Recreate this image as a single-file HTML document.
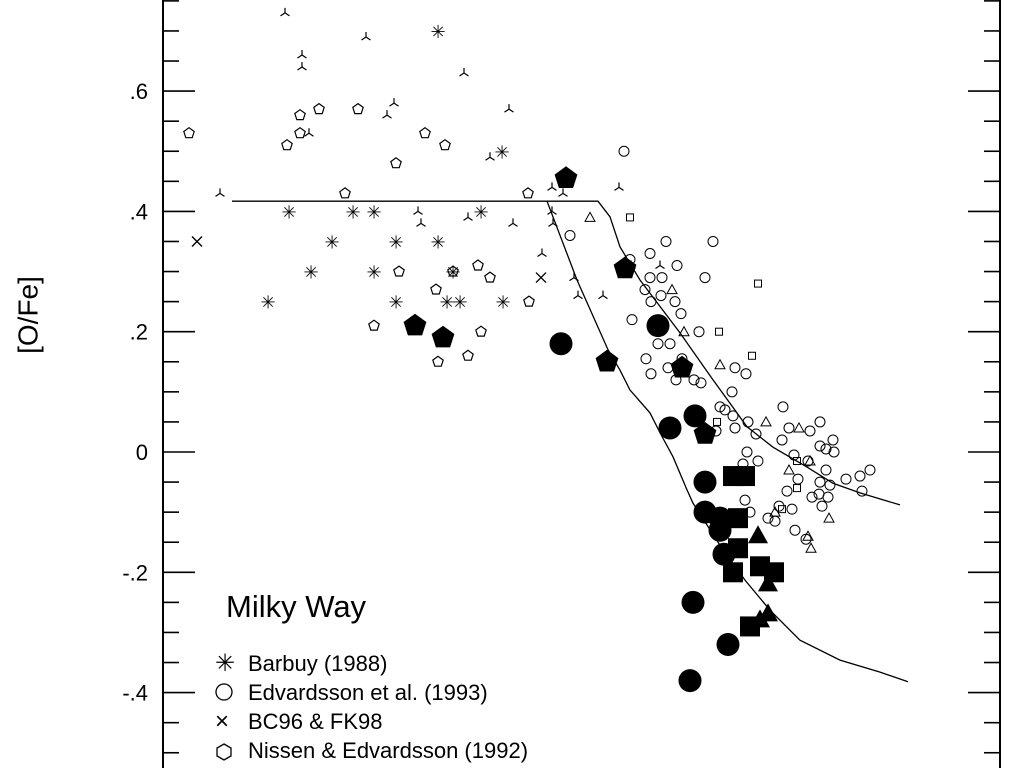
<!DOCTYPE html>
<html><head><meta charset="utf-8"><style>
body{margin:0;background:#fff;}
svg{display:block;font-family:"Liberation Sans",sans-serif;}
</style></head><body>
<svg id="chart" width="1024" height="768" viewBox="0 0 1024 768">
<g id="axes"></g>
<g id="marks"></g>
<text x="30" y="315" transform="rotate(-90 30 315)" text-anchor="middle" dominant-baseline="middle" font-size="28">[O/Fe]</text>
<text x="226" y="617" font-size="31">Milky Way</text>
<g font-size="22">
<g><text x="215" y="671" font-size="24">✳</text><text x="248" y="671">Barbuy (1988)</text></g>
<g><circle cx="224" cy="692" r="8" fill="none" stroke="#000" stroke-width="1.3"/><text x="248" y="700">Edvardsson et al. (1993)</text></g>
<g><text x="215" y="729" font-size="24">×</text><text x="248" y="729">BC96 &amp; FK98</text></g>
<g><polygon points="224,744 231,748 231,756 224,760 217,756 217,748" fill="none" stroke="#000" stroke-width="1.3"/><text x="248" y="758">Nissen &amp; Edvardsson (1992)</text></g>
</g>
</svg>
<script>
// y ticks
const yTickVals=[0.6,0.4,0.2,0,-0.2,-0.4];
const yTickLabels=[".6",".4",".2","0","-.2","-.4"];
// Barbuy asterisks [Fe/H],[O/Fe]
const barbuyX=[-2.025,-1.705,-2.77,-2.45,-2.345,-1.81,-2.555,-2.235,-2.025,-2.66,-2.345,-1.95,-2.875,-2.235,-1.98,-1.915,-1.70];
const barbuyY=[0.70,0.50,0.40,0.40,0.40,0.40,0.35,0.35,0.35,0.30,0.30,0.30,0.25,0.25,0.25,0.25,0.25];
const crossX=[-3.23,-1.51];
const crossY=[0.35,0.29];
const tripodX=[-2.79,-2.385,-2.705,-2.705,-1.895,-2.245,-2.28,-1.67,-2.67,-1.765,-3.115,-2.125,-2.11,-1.875,-1.65,-1.455,-1.455,-1.40,-1.12,-1.45,-1.505,-1.345,-1.325,-1.20,-1.06,-0.915];
const tripodY=[0.73,0.69,0.66,0.64,0.63,0.58,0.56,0.57,0.53,0.49,0.43,0.40,0.38,0.39,0.38,0.44,0.40,0.43,0.44,0.38,0.33,0.29,0.26,0.26,0.31,0.31];
const nissenX=[-3.27,-2.715,-2.78,-2.62,-2.425,-2.09,-1.99,-2.235,-2.49,-1.575,-2.345,-2.22,-1.95,-2.035,-1.825,-1.765,-1.57,-1.81,-1.875,-2.025,-2.715];
const nissenY=[0.53,0.53,0.51,0.57,0.57,0.53,0.51,0.48,0.43,0.43,0.21,0.30,0.30,0.27,0.31,0.29,0.25,0.20,0.16,0.15,0.56];
const edvX=[-1.095,-1.365,-0.885,-0.65,-0.965,-0.83,-0.965,-0.905,-0.69,-0.99,-0.96,-0.91,-0.84,-0.81,-1.055,-0.72,-0.925,-0.865,-0.985,-0.805,-0.96,-0.875,-0.835,-0.745,-0.54,-0.485,-0.555,-0.71,-0.615,-0.59,-0.55,-0.54,-0.635,-0.475,-0.435,-0.30,-0.115,-0.165,-0.27,-0.305,-0.115,-0.085,-0.045,-0.48,-0.425,-0.50,-0.51,-0.245,-0.175,-0.085,-0.065,0.015,0.135,-0.075,-0.115,-0.155,-0.225,-0.28,-0.255,-0.105,-0.24,-0.185,-0.34,-0.32,-0.49,-0.465,-0.375,-0.05,-0.12,0.085,0.095,-1.065];
const edvY=[0.50,0.36,0.35,0.35,0.33,0.31,0.29,0.29,0.29,0.27,0.25,0.26,0.25,0.23,0.22,0.20,0.18,0.18,0.155,0.155,0.13,0.14,0.12,0.12,0.14,0.13,0.10,0.115,0.075,0.07,0.06,0.04,0.035,0.05,0.03,0.075,0.05,0.035,0.04,0.02,0.01,0.005,0,0,-0.015,-0.02,-0.04,-0.005,-0.015,-0.03,-0.055,-0.045,-0.03,-0.075,-0.05,-0.075,-0.045,-0.065,-0.095,-0.09,-0.13,-0.145,-0.115,-0.09,-0.08,-0.10,-0.11,0.02,-0.07,-0.04,-0.065,0.32];
const otriX=[-1.265,-0.855,-0.795,-0.615,-0.385,-0.22,-0.165,-0.27,-0.34,-0.07,-0.175,-0.16];
const otriY=[0.39,0.27,0.20,0.145,0.05,0.04,-0.015,-0.03,-0.10,-0.11,-0.14,-0.16];
const osqX=[-1.065,-0.425,-0.62,-0.455,-0.63,-0.23,-0.23,-0.305];
const osqY=[0.39,0.28,0.20,0.16,0.05,-0.015,-0.06,-0.095];
const fpentX=[-1.385,-1.09,-0.805,-0.69,-2.14,-2.00,-1.18];
const fpentY=[0.455,0.305,0.14,0.03,0.21,0.19,0.15];
const fcircX=[-1.41,-0.925,-0.865,-0.74,-0.69,-0.69,-0.615,-0.615,-0.595,-0.75,-0.575,-0.765];
const fcircY=[0.18,0.21,0.04,0.06,-0.05,-0.10,-0.11,-0.13,-0.17,-0.25,-0.32,-0.38];
const fsqX=[-0.55,-0.49,-0.525,-0.525,-0.55,-0.415,-0.345,-0.465];
const fsqY=[-0.04,-0.04,-0.11,-0.16,-0.20,-0.19,-0.20,-0.29];
const ftriX=[-0.425,-0.375,-0.375,-0.415];
const ftriY=[-0.14,-0.22,-0.27,-0.28];
const lowerX=[-3.055,-1.48,-1.33,-1.175,-1.115,-1.065,-0.965,-0.915,-0.85,-0.78,-0.75,-0.615,-0.49,-0.365,-0.215,-0.015,0.185,0.325];
const lowerY=[0.417,0.417,0.286,0.17,0.136,0.103,0.065,0.032,-0.008,-0.063,-0.085,-0.155,-0.213,-0.263,-0.313,-0.346,-0.366,-0.382];
const upperX=[-1.48,-1.225,-1.165,-1.115,-1.015,-0.815,-0.65,-0.48,-0.35,-0.18,-0.05,0.085,0.285];
const upperY=[0.417,0.417,0.391,0.341,0.286,0.198,0.12,0.042,0.008,-0.025,-0.052,-0.068,-0.088];

const X=v=>843+v*200;
const Y=v=>452-v*601.5;
const NS="http://www.w3.org/2000/svg";
const axes=document.getElementById('axes'), marks=document.getElementById('marks');
function mk(tag,attrs,parent){const e=document.createElementNS(NS,tag);for(const k in attrs)e.setAttribute(k,attrs[k]);parent.appendChild(e);return e;}

let e=mk('line',{x1:163,y1:0,x2:163,y2:768,stroke:'#000','stroke-width':2},axes);


e=mk('line',{x1:1000,y1:0,x2:1000,y2:768,stroke:'#000','stroke-width':2},axes);


for(let i=-10;i<=15;i++){
  const v=i*0.05, y=Y(v); if(y<0||y>768) continue;
  const major=(i%4===0);
  const L=major?32:16;
  e=mk('line',{x1:163,y1:y,x2:163+L,y2:y,stroke:'#000','stroke-width':1.6},axes);
  
  
  e=mk('line',{x1:1000-L,y1:y,x2:1000,y2:y,stroke:'#000','stroke-width':1.6},axes);
  
  
}
yTickVals.forEach((v,i)=>{
  const t=mk('text',{x:148,y:Y(v)+8,'text-anchor':'end','font-size':22},axes);
  t.textContent=yTickLabels[i];
  
  
});
function poly(xs,ys,name){
  const p=mk('polyline',{points:xs.map((x,i)=>X(x)+','+Y(ys[i])).join(' '),fill:'none',stroke:'#000','stroke-width':1.3},marks);
  
  
}
poly(lowerX,lowerY,'model-line-lower');
poly(upperX,upperY,'model-line-upper');
function pent(cx,cy,r){let s=[];for(let k=0;k<5;k++){const a=-Math.PI/2+k*2*Math.PI/5;s.push((cx+r*Math.cos(a)).toFixed(1)+','+(cy+r*Math.sin(a)).toFixed(1));}return s.join(' ');}
function series(xs,ys,name,draw){xs.forEach((x,i)=>{const el=draw(X(x),Y(ys[i]));});}
series(barbuyX,barbuyY,'barbuy-point',(x,y)=>{const t=mk('text',{x:x,y:y+7,'text-anchor':'middle','font-size':18},marks);t.textContent='✳';return t;});
series(crossX,crossY,'bc96-point',(x,y)=>mk('path',{d:`M${x-5} ${y-5}L${x+5} ${y+5}M${x+5} ${y-5}L${x-5} ${y+5}`,stroke:'#000','stroke-width':1.4},marks));
series(tripodX,tripodY,'tripod-point',(x,y)=>mk('path',{d:`M${x} ${y}L${x} ${y-5}M${x} ${y}L${x-4.5} ${y+3}M${x} ${y}L${x+4.5} ${y+3}`,stroke:'#000','stroke-width':1.2,fill:'none'},marks));
series(nissenX,nissenY,'nissen-point',(x,y)=>mk('polygon',{points:pent(x,y,5.5),fill:'none',stroke:'#000','stroke-width':1.2},marks));
series(edvX,edvY,'edvardsson-point',(x,y)=>mk('circle',{cx:x,cy:y,r:5,fill:'none',stroke:'#000','stroke-width':1},marks));
series(otriX,otriY,'open-triangle-point',(x,y)=>mk('polygon',{points:`${x},${y-5} ${x+5},${y+4} ${x-5},${y+4}`,fill:'none',stroke:'#000','stroke-width':1},marks));
series(osqX,osqY,'open-square-point',(x,y)=>mk('rect',{x:x-3.5,y:y-3.5,width:7,height:7,fill:'none',stroke:'#000','stroke-width':1},marks));
series(fpentX,fpentY,'filled-pentagon-point',(x,y)=>mk('polygon',{points:pent(x,y,12),fill:'#000'},marks));
series(fcircX,fcircY,'filled-circle-point',(x,y)=>mk('circle',{cx:x,cy:y,r:11.5,fill:'#000'},marks));
series(fsqX,fsqY,'filled-square-point',(x,y)=>mk('rect',{x:x-10,y:y-10,width:20,height:20,fill:'#000'},marks));
series(ftriX,ftriY,'filled-triangle-point',(x,y)=>mk('polygon',{points:`${x},${y-11} ${x+10},${y+7} ${x-10},${y+7}`,fill:'#000'},marks));
</script>
</body></html>
